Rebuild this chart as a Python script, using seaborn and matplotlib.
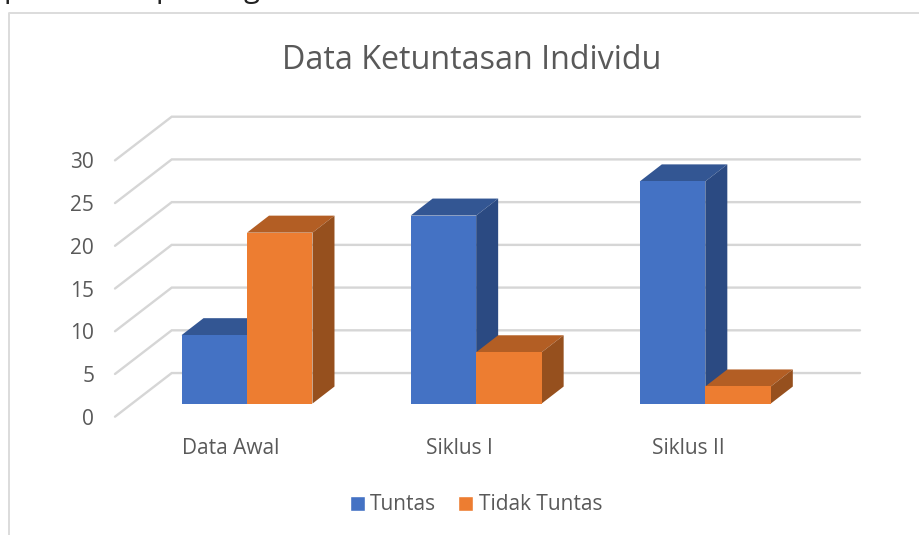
import pandas as pd
import matplotlib.pyplot as plt
import seaborn as sns
from matplotlib.lines import Line2D
from matplotlib.patches import Polygon

categories = ["Data Awal", "Siklus I", "Siklus II"]
tuntas = [8, 22, 26]
tidak_tuntas = [20, 6, 2]
value_ticks = [0, 5, 10, 15, 20, 25, 30]

GRID = "#D6D6D6"
TEXT = "#595959"
COLORS = {
    "Tuntas": ("#4472C4", "#335693", "#2B4A82"),
    "Tidak Tuntas": ("#ED7D31", "#B35E24", "#96501E"),
}

# depth of the fake 3D box, in data units
BAR_DX, BAR_DY = 0.096, 1.99
WALL_X, WALL_BACK, WALL_FRONT = -0.3285, 3.57, -1.54

df = pd.DataFrame({
    "kategori": categories * 2,
    "seri": ["Tuntas"] * 3 + ["Tidak Tuntas"] * 3,
    "nilai": tuntas + tidak_tuntas,
})

sns.set_theme(style="white")
plt.rcParams["font.family"] = ["Open Sans", "DejaVu Sans"]

W, H = 919, 535
fig = plt.figure(figsize=(W / 100, H / 100), dpi=100)
ax = fig.add_axes([115 / W, 1 - 416.7 / H, 745 / W, 300 / H])

sns.barplot(data=df, x="kategori", y="nilai", hue="seri", hue_order=list(COLORS),
            palette=[c[0] for c in COLORS.values()], width=0.5716, gap=0,
            saturation=1, ax=ax)

ax.set_xlim(-0.576, 2.675)
ax.set_ylim(WALL_FRONT, 30 + WALL_BACK)

# back wall and side wall lines
for v in value_ticks:
    ax.plot([-0.576, WALL_X, 2.675], [v + WALL_FRONT, v + WALL_BACK, v + WALL_BACK],
            color=GRID, lw=1.7, solid_joinstyle="miter", zorder=1, clip_on=False)

# depth faces for each bar
for s, (container, name) in enumerate(zip(ax.containers, COLORS)):
    front, top, side = COLORS[name]
    for bar in container:
        x0, x1 = bar.get_x(), bar.get_x() + bar.get_width()
        h = bar.get_height()
        z = 2 + s + 0.5
        bar.set_zorder(z)
        bar.set_edgecolor("none")
        ax.add_patch(Polygon([(x0, h), (x1, h), (x1 + BAR_DX, h + BAR_DY), (x0 + BAR_DX, h + BAR_DY)],
                             facecolor=top, edgecolor="none", zorder=z - 0.1))
        ax.add_patch(Polygon([(x1, 0), (x1 + BAR_DX, BAR_DY), (x1 + BAR_DX, h + BAR_DY), (x1, h)],
                             facecolor=side, edgecolor="none", zorder=z - 0.1))

ax.set_yticks([v + WALL_FRONT for v in value_ticks], [str(v) for v in value_ticks])
ax.set_xticks([i - 0.073 for i in range(len(categories))], categories)
ax.tick_params(axis="y", length=0, pad=15, labelsize=15, labelcolor=TEXT)
ax.tick_params(axis="x", length=0, pad=15, labelsize=15, labelcolor=TEXT)
for lab in ax.get_yticklabels():
    lab.set_verticalalignment("center_baseline")
ax.set_xlabel("")
ax.set_ylabel("")
sns.despine(ax=ax, left=True, bottom=True)
ax.patch.set_alpha(0)

fig.text(471.5 / W, 1 - 60.5 / H, "Data Ketuntasan Individu", ha="center", va="center",
         fontsize=23.2, color=TEXT)

handles, labels = ax.get_legend_handles_labels()
ax.legend(handles, labels, loc="center", bbox_to_anchor=(476 / W, 1 - 505 / H),
          bbox_transform=fig.transFigure, ncol=2, frameon=False, fontsize=15,
          labelcolor=TEXT, handlelength=0.72, handleheight=0.72, handletextpad=0.27,
          columnspacing=1.05)

# chart frame, cropped by the screenshot
fig.add_artist(Line2D([9 / W, 9 / W, 1], [0, 1 - 12.5 / H, 1 - 12.5 / H], color="#DCDCDC", lw=1.4))

# descenders of the document line above the chart, cut off by the screenshot
for x, letter in [(3, "p"), (155, "p"), (243, "g")]:
    fig.text(x / W, 1 + 3 / H, letter, ha="left", va="baseline", fontsize=21, color="#222222")

fig.savefig("out.png", dpi=100)
